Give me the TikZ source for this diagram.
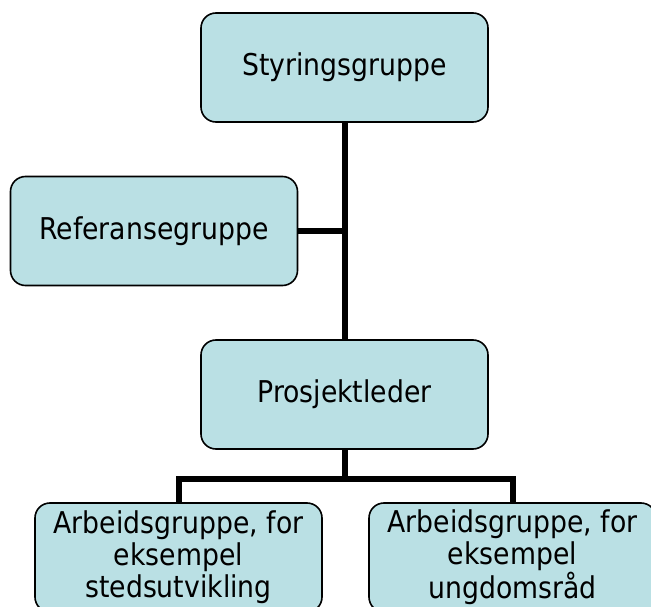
\documentclass[tikz,border=0pt]{standalone}
\usepackage{fontspec}
\setmainfont{DejaVu Sans}[FakeStretch=0.89]
\definecolor{boxfill}{RGB}{186,224,228}
\begin{document}
\begin{tikzpicture}[x=1pt,y=-1pt,
  box/.style={draw=black, line width=1.6pt, fill=boxfill, rounded corners=15pt,
    minimum width=287pt, minimum height=109pt, align=center, inner sep=0pt,
    font=\fontsize{30}{32}\selectfont},
  link/.style={line width=6pt}]
\clip (0,0) rectangle (651,607);
\fill[white] (0,0) rectangle (651,607);
\node[box] (sty) at (344.5,67.5) {Styringsgruppe};
\node[box] (ref) at (154,231) {Referansegruppe};
\node[box] (pro) at (344.5,394.5) {Prosjektleder};
\node[box] (a1) at (178.5,557.5) {Arbeidsgruppe, for\\eksempel\\stedsutvikling};
\node[box] (a2) at (512.5,557.5) {Arbeidsgruppe, for\\eksempel\\ungdomsråd};
\coordinate (j) at (344.5,479);
\draw[link] (sty.south) -- (pro.north);
\draw[link] (ref.east) -- (sty.south |- ref.east);
\draw[link] (pro.south) -- (j);
\draw[link] (a1.north) |- (j) -| (a2.north);
\end{tikzpicture}
\end{document}
